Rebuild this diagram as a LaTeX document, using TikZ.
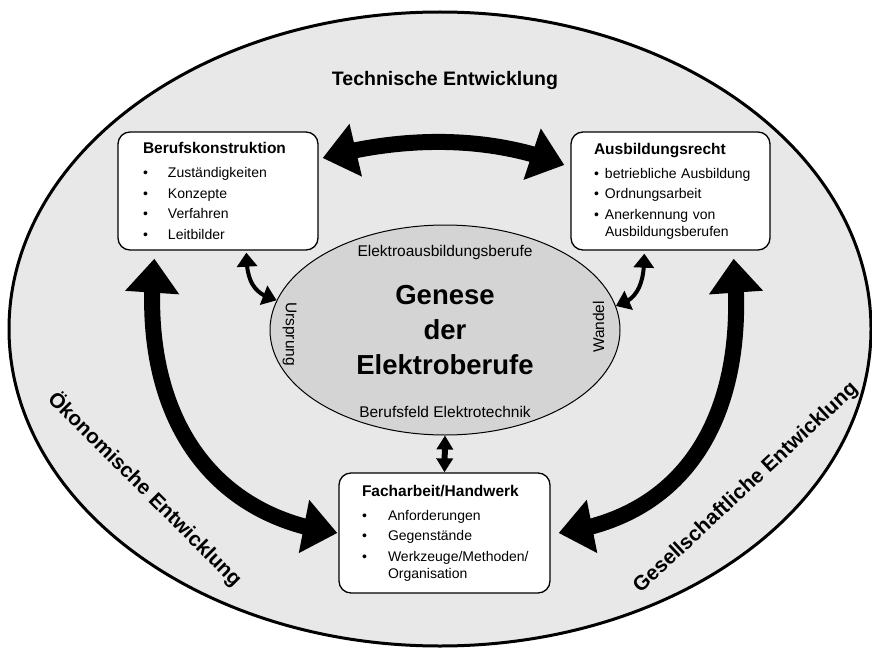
\documentclass[tikz,border=0pt]{standalone}
\usepackage{fontspec}
\setmainfont{Liberation Sans}
\usetikzlibrary{positioning,arrows.meta,bending,shapes.geometric}

\newcommand{\punkt}[2]{\mbox{\makebox[#1][l]{\textbullet}#2}}
\newcommand{\kastentitel}{\fontsize{15.5}{18}\selectfont\bfseries}

\begin{document}
\begin{tikzpicture}[x=1pt,y=-1pt,
		kasten/.style={draw=black,line width=1.3pt,rounded corners=12pt,fill=white,minimum height=118pt,align=left,inner ysep=0pt,font=\fontsize{14}{17}\selectfont},
		grosspfeil/.style={line width=16pt,{Triangle[length=34pt,width=52pt]}-{Triangle[length=34pt,width=52pt]}},
		kleinpfeil/.style={line width=4pt,{Triangle[length=14pt,width=20pt]}-{Triangle[length=14pt,width=20pt]}},
		mittelpfeil/.style={line width=6pt,{Triangle[length=14pt,width=16pt]}-{Triangle[length=14pt,width=16pt]}},
		bereich/.style={font=\fontsize{19.5}{22}\selectfont\bfseries,inner sep=0pt},
		schraeg/.style={font=\fontsize{20.7}{23}\selectfont\bfseries,inner sep=0pt},
		ellitext/.style={font=\fontsize{15.5}{18}\selectfont,inner sep=0pt}]
		\useasboundingbox (0,0) rectangle (872,650);
		\draw[line width=3pt,fill=black!9] (440,329) ellipse [x radius=431,y radius=317];
		\node[bereich,anchor=base] (technik) at (445,86) {Technische Entwicklung};
		\node[schraeg,rotate=-45] (oekonomie) at (145,489) {Ökonomische Entwicklung};
		\node[schraeg,rotate=43] (gesellschaft) at (746,488) {Gesellschaftliche Entwicklung};

		\node[draw,ellipse,fill=black!17,line width=1pt,minimum width=350pt,minimum height=210pt,inner sep=0pt,align=center,font=\fontsize{27.5}{35}\selectfont\bfseries] (genese) at (445,330) {Genese\\der\\Elektroberufe};
		\node[ellitext,below=21pt of genese.north] (oben) {Elektroausbildungsberufe};
		\node[ellitext,above=18pt of genese.south] (unten) {Berufsfeld Elektrotechnik};
		\node[ellitext,rotate=-90] (ursprung) at ([xshift=20pt,yshift=-4pt]genese.west) {Ursprung};
		\node[ellitext,rotate=90] (wandel) at ([xshift=-22pt,yshift=3pt]genese.east) {Wandel};

		\node[kasten,inner xsep=25pt,text width=150pt] (berufk) at (218,191) {{\kastentitel Berufskonstruktion}\\[7pt]
			\punkt{25pt}{Zuständigkeiten}\\[3.5pt]
			\punkt{25pt}{Konzepte}\\[3.5pt]
			\punkt{25pt}{Verfahren}\\[3.5pt]
			\punkt{25pt}{Leitbilder}};
		\node[kasten,inner xsep=23pt,text width=153pt] (ausb) at (670.5,191) {{\kastentitel Ausbildungsrecht}\\[7pt]
			\punkt{11pt}{betriebliche Ausbildung}\\[3.5pt]
			\punkt{11pt}{Ordnungsarbeit}\\[3.5pt]
			\punkt{11pt}{Anerkennung von}\\
			\hspace*{11pt}Ausbildungsberufen};
		\node[kasten,inner xsep=23pt,text width=165pt,minimum height=120pt] (fach) at (444.5,533) {{\kastentitel Facharbeit/Handwerk}\\[7pt]
			\punkt{26pt}{Anforderungen}\\[3.5pt]
			\punkt{26pt}{Gegenstände}\\[3.5pt]
			\punkt{26pt}{Werkzeuge/Methoden/}\\
			\hspace*{26pt}Organisation};

		\draw[grosspfeil] ([xshift=4pt,yshift=33pt]berufk.east) .. controls +(80,-22) and +(-75,-30) .. ([xshift=-6pt,yshift=26pt]ausb.west);
		\draw[grosspfeil] ([xshift=37pt,yshift=-8pt]berufk.south west) .. controls +(-15,142) and +(-138,-18) .. ([xshift=-1pt]fach.west);
		\draw[grosspfeil] ([xshift=-37pt,yshift=-8pt]ausb.south east) .. controls +(15,142) and +(138,-18) .. ([xshift=8pt]fach.east);

		\draw[kleinpfeil] ([xshift=129pt,yshift=-2pt]berufk.south west) .. controls +(0,30) and +(-22,-6) .. (genese.170);
		\draw[kleinpfeil] ([xshift=74pt,yshift=-3pt]ausb.south west) .. controls +(0,30) and +(22,-6) .. (genese.8);
		\draw[mittelpfeil] (genese.south) -- (fach.north);
	\end{tikzpicture}
\end{document}
